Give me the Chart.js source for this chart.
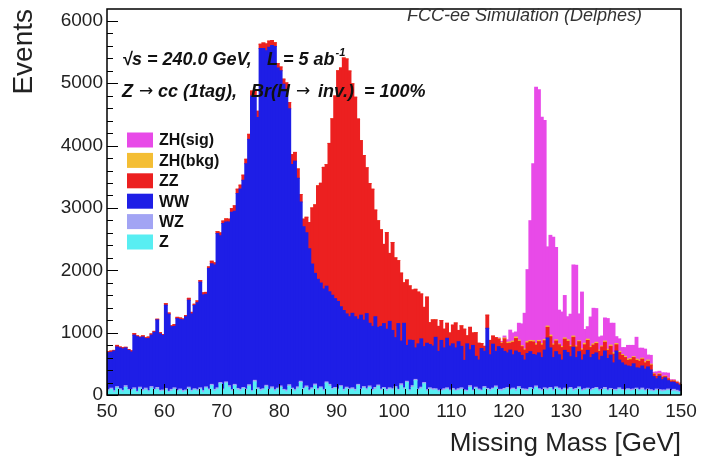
<!DOCTYPE html>
<html>
<head>
<meta charset="utf-8">
<script src="https://cdn.jsdelivr.net/npm/chart.js@4.4.1/dist/chart.umd.min.js"></script>
<style>
    html, body { margin: 0; padding: 0; background: #fff; }
    #wrap { width: 702px; height: 465px; position: relative; }
</style>
</head>
<body>
<div id="wrap"><canvas id="missingMassChart"></canvas></div>
<script>
// ==========================================
// 📊 Missing Mass 누적 히스토그램 (0.5 GeV 빈, 50~150 GeV)
// ==========================================

const MASS_MIN = 50;
const MASS_MAX = 150;
const BIN_WIDTH = 0.5;

const X_TICKS = [50, 60, 70, 80, 90, 100, 110, 120, 130, 140, 150];
const Y_TICKS = [0, 1000, 2000, 3000, 4000, 5000, 6000];
const Y_MAX = 6190;

// 아래에서부터 쌓이는 순서: Z -> WZ -> WW -> ZZ -> ZH(bkg) -> ZH(sig)
const zValues = [
    60,90,40,110,80,50,120,70,60,90,
    40,100,60,80,50,110,70,90,50,60,
    80,40,60,90,50,70,40,60,100,50,
    80,60,90,40,110,70,150,60,90,180,
    70,190,120,60,150,80,60,100,70,140,
    50,210,90,60,80,130,70,100,60,90,
    120,70,50,140,90,60,100,200,80,120,
    60,90,150,70,110,60,190,140,80,100,
    70,130,60,100,80,90,60,150,70,110,
    80,120,60,90,140,70,100,60,90,80,
    110,70,150,90,200,60,120,230,70,100,
    180,60,90,70,80,50,60,70,90,60,
    80,60,70,90,60,50,120,60,100,70,
    60,110,80,60,90,120,70,60,80,100,
    70,90,60,110,80,70,60,100,70,120,
    80,60,90,70,100,60,110,80,60,90,
    70,100,60,80,110,60,70,90,60,80,
    100,60,70,90,60,80,70,60,90,70,
    60,80,60,70,90,60,80,60,70,60,
    50,70,60,50,60,70,50,60,50,40
];

const wzValues = [
    25,20,30,25,20,25,30,20,25,25,
    20,25,25,30,20,25,20,30,25,20,
    25,20,30,25,20,25,30,20,25,25,
    20,25,25,30,20,25,20,30,25,20,
    25,20,30,25,20,25,30,20,25,25,
    20,25,25,30,20,25,20,30,25,20,
    25,20,30,25,20,25,30,20,25,25,
    20,25,25,30,20,25,20,30,25,20,
    25,20,30,25,20,25,30,20,25,25,
    20,25,25,30,20,25,20,30,25,20,
    25,20,30,25,20,25,30,20,25,25,
    20,25,25,30,20,25,20,30,25,20,
    25,20,30,25,20,25,30,20,25,25,
    20,25,25,30,20,25,20,30,25,20,
    25,20,30,25,20,25,30,20,25,25,
    20,25,25,30,20,25,20,30,25,20,
    25,20,30,25,20,25,30,20,25,25,
    20,25,25,30,20,25,20,30,25,20,
    25,20,30,25,20,25,30,20,25,25,
    20,25,25,30,20,25,20,30,25,20
];

const wwValues = [
    595,575,635,635,655,665,605,625,605,845,
    875,795,845,795,835,825,915,1085,905,875,
    1335,1235,1005,985,1155,1115,1135,1175,1395,1225,
    1335,1395,1695,1535,1485,1935,1935,1995,2475,2355,
    2655,2565,2625,2845,2775,3125,3215,3325,3615,3935,
    4725,4555,4335,5465,5455,5365,5485,5475,5505,5135,
    5055,4895,4825,4425,3585,3665,3345,2875,2595,2455,
    2265,1985,1775,1755,1665,1615,1535,1485,1495,1425,
    1405,1265,1265,1175,1155,1195,1165,1045,1185,1065,
    1205,1005,1015,1135,925,1005,1025,965,1065,935,
    785,1055,685,1035,575,795,725,505,725,775,
    575,745,695,685,825,625,795,655,795,705,
    715,675,755,665,475,745,575,715,495,465,
    665,565,965,555,705,555,685,655,595,555,
    625,535,615,545,535,465,575,575,555,495,
    575,515,605,815,635,515,565,535,475,605,
    585,495,675,495,565,475,545,605,515,545,
    555,475,525,585,505,535,425,615,445,425,
    395,365,365,405,325,345,355,335,355,315,
    225,165,215,165,195,135,135,115,105,95
];

const zzValues = [
    15,20,10,25,15,20,10,15,20,25,
    15,10,20,15,25,20,15,10,20,15,
    25,20,15,30,20,25,15,20,30,25,
    20,30,25,35,30,25,40,35,30,45,
    40,50,45,60,90,70,60,80,70,80,
    80,90,100,70,90,110,100,80,60,70,
    60,80,100,100,160,140,150,120,120,250,
    420,900,1100,1500,1600,1950,1950,2380,2830,3250,
    3700,3830,4050,4090,3940,3680,3520,3210,2800,2640,
    2340,2240,2200,1710,1710,1550,1270,1550,1090,1410,
    1280,1010,1090,650,1050,870,810,940,830,720,
    630,740,350,420,280,400,320,300,240,210,
    300,400,180,330,500,130,360,200,380,270,
    80,80,210,230,130,220,120,80,200,150,
    110,200,200,180,140,160,170,160,200,160,
    180,200,150,170,180,200,170,160,200,180,
    180,160,160,170,160,160,160,160,160,150,
    150,140,150,140,130,140,140,100,120,120,
    120,90,110,100,120,110,110,100,90,80,
    40,40,30,40,20,30,20,20,20,20
];

const zhBkgValues = [
    0,0,0,0,0,0,0,0,0,0,
    0,0,0,0,0,0,0,0,0,0,
    0,0,0,0,0,0,0,0,0,0,
    0,0,0,0,0,0,0,0,0,0,
    0,0,0,0,0,0,0,0,0,0,
    0,0,0,0,0,0,0,0,0,0,
    0,0,0,0,0,0,0,0,0,0,
    0,0,0,0,0,0,0,0,0,0,
    0,0,0,0,0,0,0,0,0,0,
    0,0,0,0,0,0,0,0,0,0,
    0,0,0,0,0,0,0,0,0,0,
    0,0,0,0,0,0,0,0,0,0,
    0,0,0,0,0,0,0,0,0,0,
    0,0,0,0,0,0,10,15,15,20,
    20,20,25,20,15,20,25,20,20,25,
    20,25,20,20,25,20,20,15,20,20,
    25,20,20,20,15,20,25,20,20,20,
    20,20,15,20,20,20,25,20,20,15,
    20,20,20,15,20,20,15,20,20,15,
    10,10,10,10,10,10,10,10,10,10
];

const zhSigValues = [
    0,0,0,0,0,0,0,0,0,0,
    0,0,0,0,0,0,0,0,0,0,
    0,0,0,0,0,0,0,0,0,0,
    0,0,0,0,0,0,0,0,0,0,
    0,0,0,0,0,0,0,0,0,0,
    0,0,0,0,0,0,0,0,0,0,
    0,0,0,0,0,0,0,0,0,0,
    0,0,0,0,0,0,0,0,0,0,
    0,0,0,0,0,0,0,0,0,0,
    0,0,0,0,0,0,0,0,0,0,
    0,0,0,0,0,0,0,0,0,0,
    0,0,0,0,0,0,0,0,0,0,
    0,0,0,0,0,0,0,0,0,0,
    0,0,0,0,0,0,10,20,30,40,
    190,130,80,270,350,570,1150,1920,2840,4110,
    4020,3630,3510,1270,1600,1710,1480,540,550,680,
    370,500,1140,1290,430,910,220,200,470,570,
    540,210,160,370,490,350,470,110,200,110,
    140,220,210,180,350,190,160,200,80,140,
    20,60,40,60,50,80,10,10,10,10
];

const FONT = '"Liberation Sans", Arial, Helvetica, sans-serif';

// 빈 중심 위치에 값 붙이기
function toBins(values) {
    return values.map((v, i) => ({ x: MASS_MIN + BIN_WIDTH * (i + 0.5), y: v }));
}

function histDataset(label, values, color) {
    return {
        label: label,
        data: toBins(values),
        backgroundColor: color,
        borderWidth: 0,
        inflateAmount: 0.5,   // 빈 사이 흰 줄 안 보이게
        barPercentage: 1.0,
        categoryPercentage: 1.0
    };
}

// 🎨 축 눈금(안쪽), 테두리, 범례, 주석 텍스트
const rootStylePlugin = {
    id: 'rootStyle',
    afterDatasetsDraw(chart) {
        const { ctx, chartArea: a, scales: { x, y } } = chart;
        ctx.save();

        // 눈금: 주 눈금 1000 / 10 GeV, 보조 눈금 200 / 2 GeV
        ctx.strokeStyle = '#000';
        ctx.lineWidth = 1;
        ctx.beginPath();
        for (let v = 0; v <= Y_TICKS[Y_TICKS.length - 1]; v += 200) {
            const py = Math.round(y.getPixelForValue(v)) + 0.5;
            const len = v % 1000 === 0 ? 11 : 6;
            ctx.moveTo(a.left, py);
            ctx.lineTo(a.left + len, py);
        }
        for (let m = MASS_MIN; m <= MASS_MAX; m += 2) {
            const px = Math.round(x.getPixelForValue(m)) + 0.5;
            const len = m % 10 === 0 ? 11 : 6;
            ctx.moveTo(px, a.bottom);
            ctx.lineTo(px, a.bottom - len);
        }
        ctx.stroke();

        // 테두리
        ctx.lineWidth = 1.5;
        ctx.strokeRect(a.left, a.top, a.right - a.left, a.bottom - a.top);

        // 범례 (위에서부터 ZH(sig) ... Z)
        const items = chart.data.datasets.slice().reverse();
        ctx.font = 'bold 16px ' + FONT;
        ctx.textBaseline = 'middle';
        ctx.textAlign = 'left';
        items.forEach((ds, k) => {
            const cy = 140 + k * 20.4;
            ctx.fillStyle = ds.backgroundColor;
            ctx.fillRect(127, cy - 7.5, 26, 15);
            ctx.fillStyle = '#111';
            ctx.fillText(ds.label, 159, cy + 1);
        });

        // 상단 주석
        ctx.textBaseline = 'alphabetic';
        ctx.fillStyle = '#333';
        ctx.font = 'italic 18px ' + FONT;
        ctx.textAlign = 'right';
        ctx.fillText('FCC-ee Simulation (Delphes)', 642, 21);

        ctx.textAlign = 'left';
        ctx.fillStyle = '#111';
        const bi = 'italic bold 18px ' + FONT;
        const arrowFont = '17px "DejaVu Sans", ' + FONT;

        ctx.font = bi;
        ctx.fillText('\u221As = 240.0 GeV,', 122, 65);
        ctx.fillText('L = 5 ab', 267, 65);
        const abEnd = 267 + ctx.measureText('L = 5 ab').width;
        ctx.font = 'italic bold 11px ' + FONT;
        ctx.fillText('-1', abEnd + 1, 56);

        ctx.font = bi;
        ctx.fillText('Z', 122, 97);
        ctx.fillText('cc (1tag),', 158, 97);
        ctx.fillText('Br(H', 251, 97);
        ctx.fillText('inv.)', 318, 97);
        ctx.fillText('= 100%', 364, 97);
        ctx.font = arrowFont;
        ctx.fillText('\u2192', 139, 96);
        ctx.fillText('\u2192', 296, 96);

        ctx.restore();
    }
};

const ctx = document.getElementById('missingMassChart').getContext('2d');

new Chart(ctx, {
    type: 'bar',
    data: {
        datasets: [
            histDataset('Z', zValues, '#58eef2'),
            histDataset('WZ', wzValues, '#a2a4f4'),
            histDataset('WW', wwValues, '#1e1ee6'),
            histDataset('ZZ', zzValues, '#ec2020'),
            histDataset('ZH(bkg)', zhBkgValues, '#f4be34'),
            histDataset('ZH(sig)', zhSigValues, '#e84ae8')
        ]
    },
    options: {
        responsive: true,
        maintainAspectRatio: false,
        animation: false,
        devicePixelRatio: 1,
        layout: { padding: { left: 0, top: 9, right: 21, bottom: 0 } },
        scales: {
            x: {
                type: 'linear',
                min: MASS_MIN,
                max: MASS_MAX,
                offset: false,
                stacked: true,
                grid: { display: false, drawTicks: false },
                border: { display: false },
                afterBuildTicks: (scale) => { scale.ticks = X_TICKS.map(v => ({ value: v })); },
                ticks: {
                    color: '#222',
                    padding: 5,
                    maxRotation: 0,
                    autoSkip: false,
                    font: { family: FONT, size: 19 }
                },
                title: {
                    display: true,
                    text: 'Missing Mass [GeV]',
                    align: 'end',
                    color: '#222',
                    padding: { top: 0, bottom: 6 },
                    font: { family: FONT, size: 26 }
                },
                afterFit: (scale) => { scale.height = 70; scale.paddingLeft = 0; scale.paddingRight = 0; }
            },
            y: {
                min: 0,
                max: Y_MAX,
                stacked: true,
                grid: { display: false, drawTicks: false },
                border: { display: false },
                afterBuildTicks: (scale) => { scale.ticks = Y_TICKS.map(v => ({ value: v })); },
                ticks: {
                    color: '#222',
                    padding: 4,
                    callback: (value) => String(value),   // 천 단위 쉼표 없이
                    font: { family: FONT, size: 19 }
                },
                title: {
                    display: true,
                    text: 'Events',
                    align: 'end',
                    color: '#222',
                    padding: { top: 7, bottom: 0 },
                    font: { family: FONT, size: 28 }
                },
                afterFit: (scale) => { scale.width = 107; scale.paddingTop = 0; scale.paddingBottom = 0; }
            }
        },
        plugins: {
            legend: { display: false },
            tooltip: { enabled: false }
        }
    },
    plugins: [rootStylePlugin]
});
</script>
</body>
</html>
